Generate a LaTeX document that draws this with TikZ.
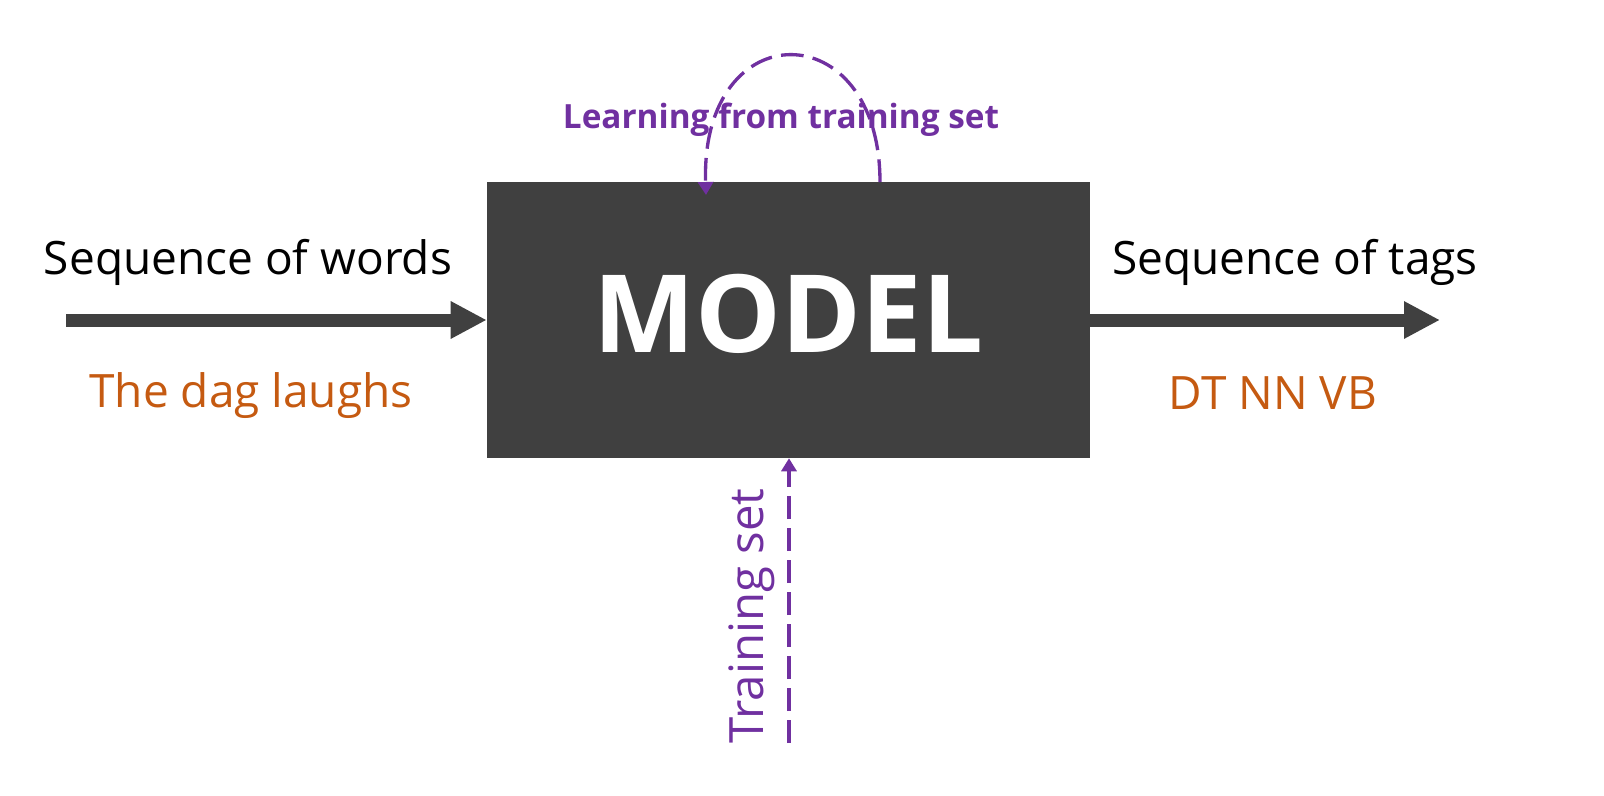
\documentclass[tikz,border=0pt]{standalone}
\usepackage{fontspec}
\setmainfont{Open Sans}
\usepackage{tikz}
\usetikzlibrary{calc,positioning,arrows.meta}
\definecolor{boxgray}{RGB}{64,64,64}
\definecolor{tagorange}{RGB}{197,90,17}
\definecolor{learnpurple}{RGB}{112,48,160}

\begin{document}
\begin{tikzpicture}[x=0.75pt, y=-0.75pt,
    bigarrow/.style={boxgray, line width=9.75pt, -{Triangle[length=27pt, width=26.25pt]}},
    dasharrow/.style={learnpurple, line width=2.5pt, dash pattern=on 17pt off 7pt,
      -{Triangle[length=9.75pt, width=11.25pt]}},
    heading/.style={font=\fontsize{34.5}{40}\selectfont, text=black, anchor=base, inner sep=0pt},
    example/.style={font=\fontsize{34.5}{40}\selectfont, text=tagorange, anchor=base, inner sep=0pt},
    purplelab/.style={text=learnpurple, anchor=base, inner sep=0pt}]
  % canvas in pixels, y downwards
  \useasboundingbox (0,0) rectangle (1604,796);

  % Model box
  \node[fill=boxgray, minimum width=452.25pt, minimum height=207pt, inner sep=0pt,
    text depth=10pt, text=white, font=\fontsize{81}{90}\selectfont\bfseries]
    (model) at (788.5,320) {MODEL};

  % Input and output
  \coordinate (inputstart) at (66,320);
  \coordinate (outputend) at (1440,320);
  \draw[bigarrow] (inputstart) -- (model.west);
  \draw[bigarrow] (model.east) -- (outputend);

  \node[heading] (inhead) at (248,274) {Sequence of words};
  \node[heading] (outhead) at (1295,274) {Sequence of tags};
  \node[example] (inex) at (251,407) {The dag laughs};
  \node[example] (outex) at (1273,409) {DT NN VB};

  % Learning loop on top
  \coordinate (loopout) at (880,182);
  \coordinate (loopin) at (706,195);
  \draw[dasharrow] (loopout) .. controls (880,12) and (700,12) .. (loopin);
  \node[purplelab, font=\fontsize{25}{30}\selectfont\bfseries] (learnlab) at (781,128)
    {Learning from training set};

  % Training set from below
  \coordinate (trainstart) at (789,743);
  \draw[dasharrow] (trainstart) -- (model.south -| trainstart);
  \node[purplelab, font=\fontsize{35.5}{40}\selectfont, rotate=90] (trainlab) at (763,616)
    {Training set};
\end{tikzpicture}
\end{document}
